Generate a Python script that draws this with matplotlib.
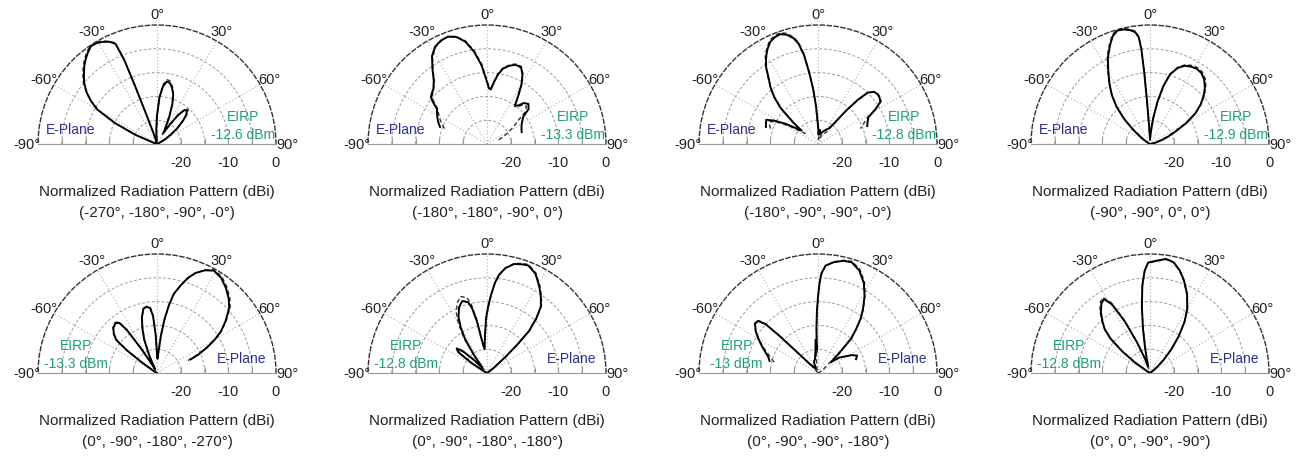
import matplotlib
matplotlib.use("Agg")
import matplotlib.pyplot as plt
import numpy as np

plt.rcParams["font.family"] = ["Liberation Sans", "DejaVu Sans"]

THETA_TICKS = [-90, -60, -30, 0, 30, 60, 90]
R_RINGS = [-20, -15, -10, -5]
R_LABELS = [-20, -10, 0]
R_MIN, R_MAX = -25, 0

# angles in degrees, gains in dB (measured = solid, simulated = dashed)
p1_ang = [-90, -75, -70, -67, -63.5, -60, -57, -54, -50, -47, -43, -40, -37, -34, -31, -28, -25, -22.5, -21.3, -20.7,
          -20, -18, -14, -8, -3, 0, 3, 6, 9, 12, 15, 18, 21, 24, 27, 30, 33, 36, 39, 42, 45, 48, 52, 56, 60, 65, 75, 90]
p1_meas = [-25, -25, -24.3, -20, -15, -10.5, -8.5, -6.8, -5, -4, -2.6, -1.7, -0.9, -0.2, -0.3, -0.7, -1.3, -2.2, -6, -12,
           -18, -22.5, -24.5, -24.5, -22, -19, -15.2, -12.8, -11.7, -11.9, -12.8, -14, -16, -18.5, -20.8, -22.2, -20.5,
           -17.5, -15.8, -15.6, -16.3, -17.6, -19.5, -21.5, -23, -24.6, -25, -25]
p1_sim = [-25, -25, -24.6, -20.6, -15.5, -10.8, -8.6, -6.7, -4.8, -3.7, -2.3, -1.4, -0.6, 0, 0, -0.5, -1.2, -2.0, -5.5, -11.5,
          -18, -23, -25, -25, -23, -19.5, -15, -12.4, -11.3, -11.5, -12.5, -13.8, -16, -18.8, -21.5, -23, -21, -17.8,
          -15.6, -15.2, -15.9, -17.4, -19.6, -22, -23.8, -25, -25, -25]

p2_ang = [-70, -66, -62, -58, -55, -52, -50, -47, -44, -40, -36, -32, -28, -24, -20, -16, -12, -8, -4, -1,
          2, 4, 6, 9, 12, 16, 20, 24, 27, 30, 33, 36, 39, 42, 46, 50, 53, 56, 60, 65, 71]
p2_meas = [-14.5, -13.8, -13.2, -12.6, -12.2, -10.5, -9.6, -9.2, -8.8, -7.6, -5.5, -3.2, -1.8, -1.2, -1.0, -1.6, -3.0,
           -5.4, -8.4, -11.2, -13.3, -13.5, -12.2, -10.2, -8.8, -7.9, -7.3, -7.4, -8.6, -10.5, -13.0, -15.0, -14.6,
           -13.4, -12.9, -13.6, -15.5, -16.0, -16.6, -17.0, -17.3]
p2_sim = [-15.5, -14.6, -13.8, -13.0, -12.4, -11.0, -10.0, -9.4, -8.9, -7.8, -5.7, -3.4, -2.0, -1.3, -1.0, -1.5, -2.8,
          -5.1, -8.0, -10.9, -13.0, -13.3, -12.0, -10.0, -8.6, -7.7, -7.1, -7.2, -8.4, -10.3, -12.8, -15.2, -15.0,
          -14.0, -13.5, -14.5, -16.8, -18.0, -19.5, -21.0, -22.5]

p3_ang = [-72, -68, -65, -62, -58, -54, -51, -49, -46, -43, -40, -37, -34, -31, -28, -25, -22, -19, -16, -13,
          -11, -9, -7, -5, -3, 0, 4, 8, 12, 18, 24, 30, 35, 38, 40, 42, 44, 47, 50, 53, 56, 59, 62, 66, 70]
p3_meas = [-13.5, -13.2, -13.0, -14.5, -17.0, -19.5, -20.5, -18.0, -14.0, -11.5, -9.5, -7.8, -5.5, -3.8, -2.4, -1.3,
           -0.8, -0.6, -1.1, -2.2, -3.5, -6, -10, -13.5, -17, -21, -23, -22, -23, -22.5, -22, -21.5, -21, -19.5, -16,
           -12.5, -10, -8.9, -8.7, -8.8, -9.2, -11, -13, -13.6, -14]
p3_sim = [-14.5, -14.0, -13.8, -15.2, -17.8, -20.5, -21.5, -18.5, -14.2, -11.6, -9.4, -7.6, -5.3, -3.5, -2.1, -1.0,
          -0.5, -0.3, -0.8, -1.9, -3.2, -5.6, -9.5, -13.2, -17.5, -22, -24, -23.5, -24, -23.5, -23, -22.5, -22, -20,
          -16.5, -13, -10.2, -9, -8.6, -8.6, -9, -10.8, -13.3, -14.5, -15.5]

p4_ang = [-90, -60, -55, -50, -46, -42, -38, -34, -30, -26, -22, -19, -16, -13, -10, -7.5, -6, -5.2, -4.6, -4,
          -3, 0, 4, 7, 10, 13, 16, 20, 24, 28, 32, 36, 40, 44, 48, 52, 56, 60, 64, 68, 72, 78, 85, 90]
p4_meas = [-25, -24.5, -23, -20.5, -17.5, -14.5, -12, -9.8, -7.5, -4.8, -2.6, -1.0, -0.2, -0.3, -0.7, -1.3, -2.5, -5,
           -10, -16, -21, -24, -22.5, -19.5, -16, -12.5, -9.8, -8, -7, -6.6, -6.4, -6.6, -7.3, -8.4, -9.8, -11.5,
           -13.5, -16.2, -19, -21, -22.5, -24, -25, -25]
p4_sim = [-25, -25, -23.6, -21, -17.8, -14.6, -12, -9.6, -7.2, -4.5, -2.3, -0.7, 0, -0.1, -0.5, -1.1, -2.3, -4.8,
          -9.5, -15.5, -21, -24.5, -23, -20, -16.3, -12.6, -9.7, -7.8, -6.8, -6.3, -6.1, -6.3, -7.0, -8.1, -9.6,
          -11.4, -13.6, -16.5, -19.5, -21.6, -23.2, -24.8, -25, -25]

p5_ang = [-90, -62, -58, -55, -53, -51, -48, -44, -40, -37, -35, -33, -30, -27, -24, -21, -18, -15, -12, -9,
          -6, -4, -2, 0, 2, 4, 6, 8, 10, 12, 15, 18, 21, 25, 29, 34, 39, 44, 48, 53, 57, 60, 63, 66, 68]
p5_meas = [-25, -25, -24, -21, -17, -14, -12.8, -11.8, -11.4, -11.8, -14, -19, -23, -24, -21, -17.5, -15, -12.8,
           -11.2, -10.9, -11.3, -13, -17, -21, -22, -20.5, -17, -13.5, -10.5, -8, -6, -4, -2.5, -1.2, -0.4, -0.9,
           -2, -3.3, -4.6, -7, -9, -11, -13.2, -15.5, -17.4]
p5_sim = [-25, -25, -24.5, -21.5, -17.5, -14.3, -12.9, -11.7, -11.2, -11.5, -13.6, -18.5, -23, -24.5, -21.5, -17.8,
          -15.2, -12.9, -11.2, -10.8, -11.1, -12.7, -16.5, -20.5, -22, -20.8, -17.4, -13.8, -10.7, -8.1, -6.1,
          -4.1, -2.5, -1.1, -0.2, -0.6, -1.7, -3, -4.3, -6.8, -8.9, -11.1, -13.5, -16, -18]

p6_ang = [-90, -65, -60, -57, -54, -51, -48, -45, -42, -39, -36, -33, -30, -27, -23, -19, -15, -13, -11, -9,
          -6, -3, -1, 1, 3, 5, 7, 10, 14, 18, 21, 26, 31, 35, 39, 42, 45, 47, 49, 52, 56, 62, 90]
p6_meas = [-25, -25, -24, -21, -17.5, -16.8, -18, -21, -23.5, -23, -20.5, -16.6, -14, -11.8, -10, -9, -9.6, -11, -14,
           -18, -20, -17, -13.5, -11, -8.5, -6, -4.2, -2.6, -1.4, -1.0, -0.8, -1.8, -3.7, -5.3, -7, -9.5, -12.5,
           -16.5, -20, -23, -24.5, -25, -25]
p6_sim = [-25, -25, -24.5, -21.5, -18, -17, -18.5, -21.5, -24, -23, -20, -15.8, -13, -10.8, -9, -8, -8.6, -10, -13.2,
          -17.5, -20, -17.5, -14, -11.3, -8.7, -6.2, -4.3, -2.6, -1.3, -0.8, -0.6, -1.6, -3.5, -5.1, -6.8, -9.3,
          -12.3, -16.3, -20, -23.2, -24.8, -25, -25]

p7_ang = [-76, -72, -68, -64, -60, -56, -52, -49, -47, -46, -45, -42, -36, -28, -20, -12, -7, -4, -3, -2,
          -1, 0, 1, 2, 4, 8, 13, 17, 22, 27, 31, 35, 38, 41, 44, 47, 50, 54, 58, 62, 66, 70]
p7_meas = [-14.5, -14, -13, -11.8, -10.5, -9.2, -8.2, -8.3, -10, -14, -19, -22.5, -23.5, -24, -22.5, -22, -20.5,
           -18, -20, -15.6, -12, -9, -6, -4, -2.4, -1.5, -0.8, -0.7, -1.8, -3.8, -6, -8.5, -10.4, -12.8, -15, -19,
           -21.5, -19.5, -18.5, -17, -16, -16.5]
p7_sim = [-15.5, -14.6, -13.4, -12, -10.6, -9.2, -8.1, -8.1, -9.6, -13.5, -19, -23, -24.5, -25, -24.5, -24, -22.5,
          -20, -21, -16, -12.2, -9.2, -6.2, -4.2, -2.5, -1.4, -0.7, -0.5, -1.5, -3.5, -5.8, -8.3, -10.3, -12.8,
          -15.3, -19.5, -22.5, -23.5, -24, -24.5, -25, -25]

p8_ang = [-90, -62, -58, -55, -52, -49, -46, -43, -39, -35, -32, -29, -26, -23, -20, -16, -13, -11, -9, -7,
          -5, -3, -1, 3, 8, 12, 16, 20, 25, 30, 34, 38, 42, 46, 50, 55, 62, 90]
p8_meas = [-25, -25, -24, -21, -17.5, -14, -11.8, -10.4, -8.6, -7.2, -6.7, -8.5, -13, -18, -21.5, -23.5, -22, -19.5,
           -15.5, -11, -6.5, -3.5, -1.8, -1.4, -0.8, -1.2, -2.5, -4.2, -6.6, -9.3, -12, -15.2, -18.3, -21, -23,
           -24.5, -25, -25]
p8_sim = [-25, -25, -24.5, -21.5, -18, -14.3, -11.8, -10.2, -8.3, -6.8, -6.3, -8, -12.5, -17.8, -21.5, -24, -23,
          -20.5, -16, -11.3, -6.7, -3.6, -1.9, -1.5, -0.9, -1.3, -2.6, -4.3, -6.7, -9.4, -12.1, -15.3, -18.4,
          -21.2, -23.4, -25, -25, -25]

phase_labels = [
    "(-270°, -180°, -90°, -0°)", "(-180°, -180°, -90°, 0°)", "(-180°, -90°, -90°, -0°)", "(-90°, -90°, 0°, 0°)",
    "(0°, -90°, -180°, -270°)", "(0°, -90°, -180°, -180°)", "(0°, -90°, -90°, -180°)", "(0°, 0°, -90°, -90°)",
]
eirp_dbm = ["-12.6", "-13.3", "-12.8", "-12.9", "-13.3", "-12.8", "-13", "-12.8"]

angles = [p1_ang, p2_ang, p3_ang, p4_ang, p5_ang, p6_ang, p7_ang, p8_ang]
measured = [p1_meas, p2_meas, p3_meas, p4_meas, p5_meas, p6_meas, p7_meas, p8_meas]
simulated = [p1_sim, p2_sim, p3_sim, p4_sim, p5_sim, p6_sim, p7_sim, p8_sim]

E_COLOR = "#2c2f93"
EIRP_COLOR = "#1f9f78"
TEXT_COLOR = "#222222"

W, H = 1307, 460
fig = plt.figure(figsize=(W / 100, H / 100), dpi=100)

col_cx = [157, 487, 818, 1150]
row_base = [145, 374]
R = 119


def fy(f):
    # fraction of the half-disc height above the baseline -> axes fraction
    # (the half disc fills the middle half of a square polar box)
    return 0.25 + 0.5 * f


for i in range(8):
    row, col = divmod(i, 4)
    cx, by = col_cx[col], row_base[row]
    # square box, half disc centred in it
    ax = fig.add_axes([(cx - R) / W, (H - by - R / 2) / H, 2 * R / W, 2 * R / H], projection="polar")
    ax.set_theta_zero_location("N")
    ax.set_theta_direction(-1)
    ax.set_thetamin(-90)
    ax.set_thetamax(90)
    ax.set_rlim(R_MIN, R_MAX)

    th = np.deg2rad(angles[i])
    ax.plot(th, simulated[i], color="#333333", lw=1.0, ls=(0, (3, 2)), zorder=3)
    ax.plot(th, measured[i], color="black", lw=1.4, zorder=4)

    ax.set_rticks(R_RINGS)
    ax.set_yticklabels([])
    ax.set_thetagrids(THETA_TICKS, labels=[f"{t}°" for t in THETA_TICKS])
    ax.tick_params(axis="x", labelsize=10.5, pad=1, colors=TEXT_COLOR, length=0)
    ax.tick_params(axis="y", which="major", left=True, right=True, labelleft=False, labelright=False,
                   length=4, width=0.8, direction="in", color="#999999")
    ax.yaxis.grid(True, color="#9a9a9a", ls=(0, (3, 2)), lw=0.7)
    ax.xaxis.grid(True, color="#b0b0b0", ls=(0, (1, 2)), lw=0.8)
    ax.spines["polar"].set_linestyle((0, (3, 2)))
    ax.spines["polar"].set_color("#333333")
    ax.spines["polar"].set_linewidth(1.0)
    for s in ("start", "end"):
        ax.spines[s].set_color("#999999")
        ax.spines[s].set_linewidth(0.8)

    for r in R_LABELS:
        ax.annotate(f"{r}", xy=(np.deg2rad(90), r), xytext=(0, -13), textcoords="offset points",
                    ha="center", va="center", fontsize=10.5, color=TEXT_COLOR, annotation_clip=False)

    eirp_txt = f"EIRP\n-{eirp_dbm[i][1:]} dBm"
    if row == 0:
        ax.text(0.033, fy(0.125), "E-Plane", transform=ax.transAxes, ha="left", va="center",
                fontsize=10, color=E_COLOR)
        ax.text(0.86, fy(0.158), eirp_txt, transform=ax.transAxes, ha="center", va="center",
                fontsize=10, color=EIRP_COLOR, linespacing=1.35)
    else:
        ax.text(0.958, fy(0.13), "E-Plane", transform=ax.transAxes, ha="right", va="center",
                fontsize=10, color=E_COLOR)
        ax.text(0.158, fy(0.158), eirp_txt, transform=ax.transAxes, ha="center", va="center",
                fontsize=10, color=EIRP_COLOR, linespacing=1.35)

    ax.text(0.5, fy(-0.395), "Normalized Radiation Pattern (dBi)", transform=ax.transAxes,
            ha="center", va="center", fontsize=11, color=TEXT_COLOR)
    ax.text(0.5, fy(-0.571), phase_labels[i], transform=ax.transAxes,
            ha="center", va="center", fontsize=11, color=TEXT_COLOR)

fig.savefig("out.png", dpi=100, facecolor="white")
